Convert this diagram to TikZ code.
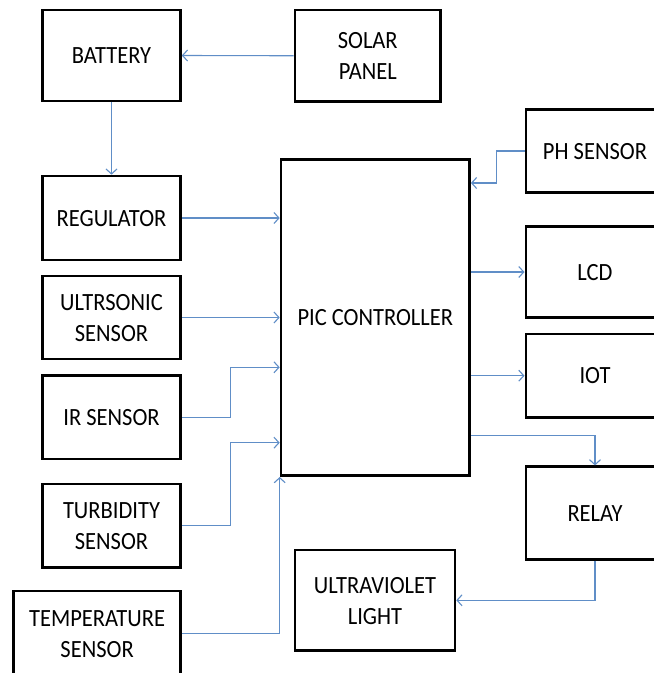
\documentclass[tikz,border=0pt]{standalone}
\usepackage{fontspec}
\setmainfont{Carlito}
\usetikzlibrary{arrows.meta,calc}
\definecolor{lineblue}{RGB}{96,142,199}
\newcommand\boxtext[1]{\raisebox{-2pt}[\height][\depth]{\scalebox{1}[1.1]{\begin{tabular}{@{}c@{}}#1\end{tabular}}}}
\begin{document}
\begin{tikzpicture}[x=1pt,y=-1pt,
  box/.style={draw=black,line width=2.6pt,inner sep=0pt,align=center,
    font=\fontsize{22.5}{28.2}\selectfont},
  arr/.style={draw=lineblue,line width=1.1pt,-{Straight Barb[length=5pt,width=11pt,line width=1.1pt]}}]
\useasboundingbox (0,0) rectangle (654,673);
\clip (0,0) rectangle (654,673);
\fill[white] (0,0) rectangle (654,673);
\node[box,minimum width=138pt,minimum height=91pt] (bat) at (111.5,55.5) {\boxtext{BATTERY}};
\node[box,minimum width=145.5pt,minimum height=91.5pt] (sol) at (367.75,55.75) {\boxtext{SOLAR\\PANEL}};
\node[box,minimum width=138pt,minimum height=84pt] (reg) at (111.5,218) {\boxtext{REGULATOR}};
\node[box,minimum width=138pt,minimum height=83pt] (ult) at (111.5,317.5) {\boxtext{ULTRSONIC\\SENSOR}};
\node[box,minimum width=138pt,minimum height=83.3pt] (ir) at (111.5,417.3) {\boxtext{IR SENSOR}};
\node[box,minimum width=138pt,minimum height=83.7pt] (tur) at (111.5,525.8) {\boxtext{TURBIDITY\\SENSOR}};
\node[box,minimum width=166.75pt,minimum height=85pt] (tem) at (97.1,633.5) {\boxtext{TEMPERATURE\\SENSOR}};
\node[box,minimum width=188.6pt,minimum height=316.4pt] (pic) at (375.3,317.5) {\boxtext{PIC CONTROLLER}};
\node[box,minimum width=138.4pt,minimum height=83.4pt] (ph) at (595,151) {\boxtext{PH SENSOR}};
\node[box,minimum width=138.4pt,minimum height=90.6pt] (lcd) at (595,272) {\boxtext{LCD}};
\node[box,minimum width=138.4pt,minimum height=83.3pt] (iot) at (595,375.7) {\boxtext{IOT}};
\node[box,minimum width=138.4pt,minimum height=92.6pt] (rel) at (595,513) {\boxtext{RELAY}};
\node[box,minimum width=160pt,minimum height=100.7pt] (uv) at (375,600.3) {\boxtext{ULTRAVIOLET\\LIGHT}};
\draw[arr] (sol.west) -- (bat.east);
\draw[arr] (bat.south) -- (reg.north);
\draw[arr] (reg.east) -- (pic.west |- reg.east);
\draw[arr] (ult.east) -- (pic.west |- ult.east);
\draw[arr] (ir.east) -- ++(49,0) |- ([yshift=-49.8pt]pic.west);
\draw[arr] (tur.east) -- ++(49,0) |- ([yshift=-125.2pt]pic.west);
\draw[arr] (tem.east) -| (pic.south west);
\draw[arr] (ph.west) -- ++(-28,0) |- ([yshift=-25pt]pic.north east);
\draw[arr] (pic.east |- lcd.west) -- (lcd.west);
\draw[arr] (pic.east |- iot.west) -- (iot.west);
\draw[arr] ([yshift=41.7pt]pic.south east) -| (rel.north);
\draw[arr] (rel.south) |- (uv.east);
\end{tikzpicture}
\end{document}
